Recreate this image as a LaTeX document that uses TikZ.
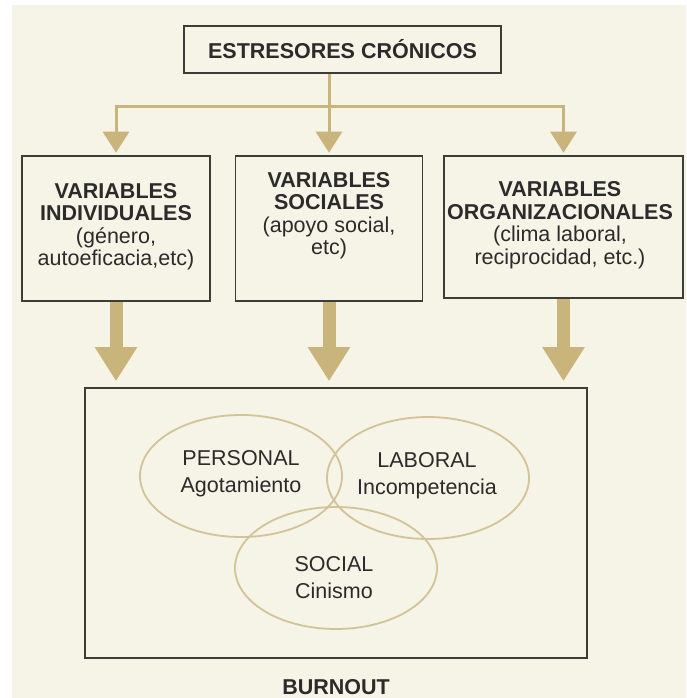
\documentclass[tikz,border=0pt]{standalone}
\usepackage{fontspec}
\setmainfont{Liberation Sans}
\usetikzlibrary{arrows.meta,shapes.geometric}
\definecolor{cream}{HTML}{F6F3E7}
\definecolor{gold}{HTML}{C9B47C}
\definecolor{ringgold}{HTML}{D3C497}
\definecolor{ink}{HTML}{2B2B2B}
\definecolor{frame}{HTML}{3C3C38}

\begin{document}
\begin{tikzpicture}[x=1pt,y=-1pt,
    box/.style={draw=frame,line width=1.6pt,inner sep=0pt},
    vartext/.style={text=ink,align=center,inner sep=0pt,font=\fontsize{21.5}{22.5}\selectfont},
    ringtext/.style={vartext,font=\fontsize{21.5}{27}\selectfont},
    heading/.style={vartext,font=\bfseries\fontsize{21.5}{22.5}\selectfont},
    ring/.style={ellipse,draw=ringgold,line width=1.8pt,inner sep=0pt,minimum width=202pt,minimum height=122pt},
    feed/.style={draw=gold,line width=3pt,-{Triangle[width=26pt,length=21pt]},shorten >=2.5pt},
    flow/.style={draw=gold,line width=13pt,-{Triangle[width=40pt,length=34pt]},shorten >=6pt}]
        \fill[white] (0,0) rectangle (686,698);
        \fill[cream] (12,5) rectangle (686,698);
        \useasboundingbox (0,0) rectangle (686,698);

        \path
        % top
        (342.5,49.5) node[box,heading,minimum width=317pt,minimum height=47pt](top) {ESTRESORES CRÓNICOS}

        % variables
        (116,228.5) node[box,minimum width=188pt,minimum height=145pt](b1) {}
        (329,228.5) node[box,minimum width=187pt,minimum height=145pt](b2) {}
        (563.5,227) node[box,minimum width=239pt,minimum height=142pt](b3) {}

        (116,226.5) node[vartext](t1) {\textbf{VARIABLES}\\\textbf{INDIVIDUALES}\\(género,\\autoeficacia,etc)}
        (329,215.5) node[vartext](t2) {\textbf{VARIABLES}\\\textbf{SOCIALES}\\(apoyo social,\\etc)}
        (560,225) node[vartext](t3) {\textbf{VARIABLES}\\\textbf{ORGANIZACIONALES}\\(clima laboral,\\reciprocidad, etc.)}

        % burnout
        (336,523) node[box,minimum width=502pt,minimum height=270pt](burn) {}
        (241,476) node[ring](pers) {}
        (428,478) node[ring](lab) {}
        (336,568) node[ring](soc) {}

        (241,474) node[ringtext](perst) {PERSONAL\\Agotamiento}
        (427,476) node[ringtext](labt) {LABORAL\\Incompetencia}
        (334,578) node[ringtext](soct) {SOCIAL\\Cinismo}

        (336,687) node[heading](burnt) {BURNOUT}
        ;

        \coordinate (j) at (329,107);

        \draw[feed] (j |- top.south) -- (b2.north);
        \draw[feed] (j) -| (b1.north);
        \draw[feed] (j) -| (b3.north);

        \draw[flow] (b1.south) -- (b1.south |- burn.north);
        \draw[flow] (b2.south) -- (b2.south |- burn.north);
        \draw[flow] (b3.south) -- (b3.south |- burn.north);
\end{tikzpicture}
\end{document}
